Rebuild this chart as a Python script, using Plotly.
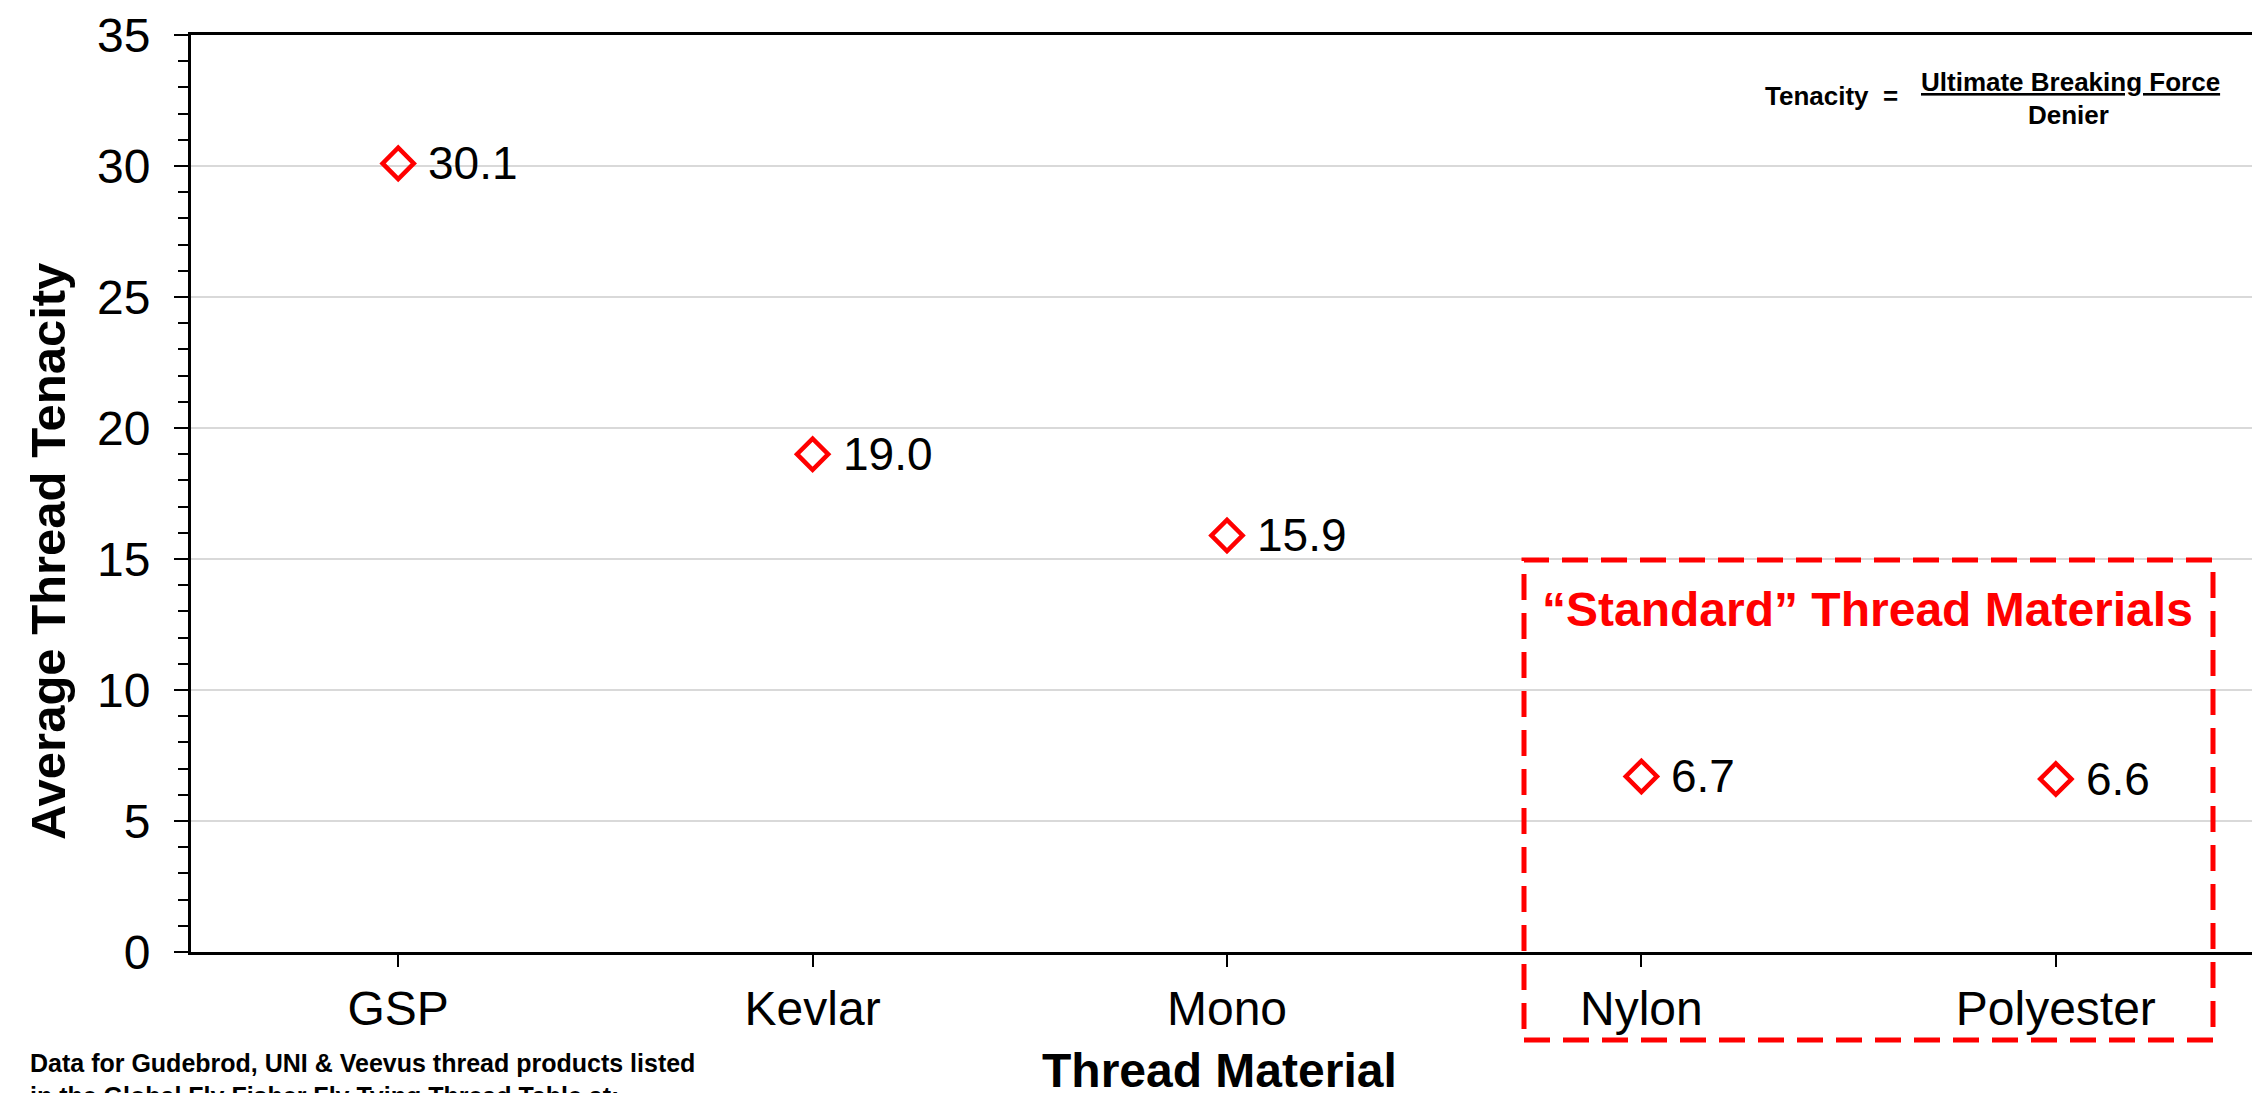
import plotly.graph_objects as go

# ---- data ----
categories = ["GSP", "Kevlar", "Mono", "Nylon", "Polyester"]
tenacity = [30.1, 19.0, 15.9, 6.7, 6.6]
y_ticks = [0, 5, 10, 15, 20, 25, 30, 35]

W, H = 2260, 1093
L, R, T, B = 183, 2255, 27, 944  # plot area in pixels
FONT = "Arial, Liberation Sans, sans-serif"


def px(x):
    return (x - L) / (R - L)


def py(y):
    return (B - y) / (B - T)


fig = go.Figure()
fig.add_trace(go.Scatter(
    x=categories, y=tenacity, mode="markers",
    marker=dict(symbol="diamond-open", size=24, color="#FF0000",
                line=dict(width=4.5, color="#FF0000")),
    showlegend=False, hoverinfo="x+y",
))

# data labels
for c, v in zip(categories, tenacity):
    fig.add_annotation(x=c, y=v, xref="x", yref="y", text=f"{v:.1f}",
                       showarrow=False, xanchor="left", yanchor="middle",
                       xshift=28, font=dict(family=FONT, size=46, color="black"))

# y-axis title
fig.add_annotation(x=px(40), y=py(544), xref="paper", yref="paper",
                   text="<b>Average Thread Tenacity</b>", textangle=-90,
                   showarrow=False, xanchor="center", yanchor="middle",
                   font=dict(family=FONT, size=49, color="black"))
# x-axis title
fig.add_annotation(x=px(1211), y=py(1062), xref="paper", yref="paper",
                   text="<b>Thread Material</b>",
                   showarrow=False, xanchor="center", yanchor="middle",
                   font=dict(family=FONT, size=48, color="black"))

# formula
fig.add_annotation(x=px(1755), y=py(88), xref="paper", yref="paper",
                   text="<b>Tenacity  =</b>", showarrow=False,
                   xanchor="left", yanchor="middle",
                   font=dict(family=FONT, size=26, color="black"))
fig.add_annotation(x=px(2062), y=py(74), xref="paper", yref="paper",
                   text="<b><u>Ultimate Breaking Force</u></b>", showarrow=False,
                   xanchor="center", yanchor="middle",
                   font=dict(family=FONT, size=26, color="black"))
fig.add_annotation(x=px(2060), y=py(107), xref="paper", yref="paper",
                   text="<b>Denier</b>", showarrow=False,
                   xanchor="center", yanchor="middle",
                   font=dict(family=FONT, size=26, color="black"))

# standard materials box
fig.add_shape(type="rect", xref="paper", yref="paper",
              x0=px(1516), x1=px(2205), y0=py(1032), y1=py(552),
              line=dict(color="#FF0000", width=5, dash="26px,13px"),
              fillcolor="rgba(0,0,0,0)")
fig.add_annotation(x=px(1859), y=py(602), xref="paper", yref="paper",
                   text="<b>\u201cStandard\u201d Thread Materials</b>",
                   showarrow=False, xanchor="center", yanchor="middle",
                   font=dict(family=FONT, size=48, color="#FF0000"))

# source note (cut off at bottom in original)
fig.add_annotation(x=px(20), y=py(1071), xref="paper", yref="paper",
                   text="<b>Data for Gudebrod, UNI &amp; Veevus thread products listed<br>"
                        "in the Global Fly Fisher Fly Tying Thread Table at:</b>",
                   showarrow=False, xanchor="left", yanchor="middle", align="left",
                   font=dict(family=FONT, size=25, color="black"))

fig.update_layout(
    width=W, height=H,
    margin=dict(l=L, r=W - R, t=T, b=H - B, pad=0, autoexpand=False),
    paper_bgcolor="white", plot_bgcolor="white",
    xaxis=dict(
        range=[-0.5, 4.5], type="category", automargin=False,
        showline=True, linecolor="black", linewidth=3, mirror=True,
        ticks="outside", ticklen=12, tickwidth=2, tickcolor="black",
        tickfont=dict(family=FONT, size=48, color="black"),
        ticklabelstandoff=0,
        showgrid=False, zeroline=False,
    ),
    yaxis=dict(
        range=[0, 35], tickvals=y_ticks, automargin=False,
        showline=True, linecolor="black", linewidth=3, mirror=True,
        ticks="outside", ticklen=14, tickwidth=2, tickcolor="black",
        tickfont=dict(family=FONT, size=48, color="black"),
        ticklabelstandoff=14,
        showgrid=True, gridcolor="#D9D9D9", gridwidth=2, zeroline=False,
        minor=dict(dtick=1, ticks="outside", ticklen=10, tickwidth=2,
                   tickcolor="black", showgrid=False),
    ),
)

fig.write_html("out.html")
